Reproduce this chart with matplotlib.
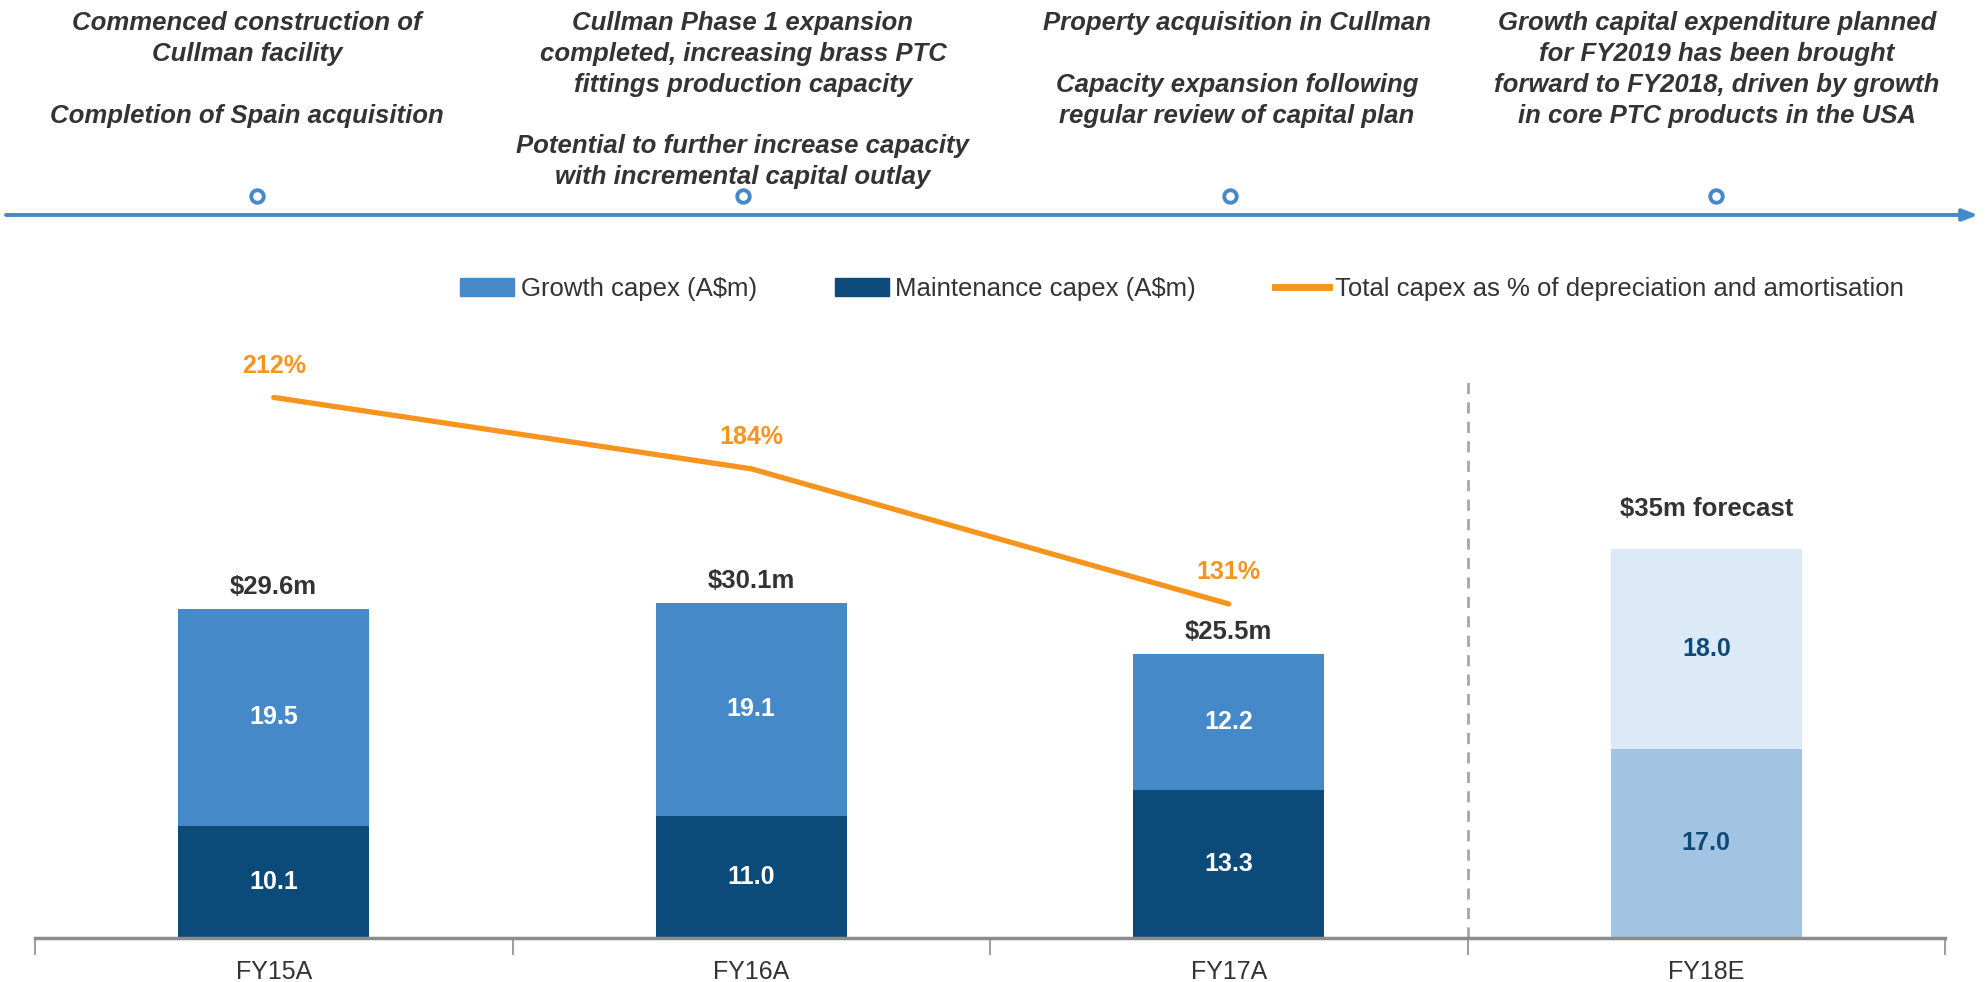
import numpy as np
import matplotlib
matplotlib.use("Agg")
import matplotlib.pyplot as plt
from matplotlib.patches import Patch
from matplotlib.lines import Line2D

plt.rcParams['font.family'] = ['Liberation Sans', 'DejaVu Sans']

# data
years = ["FY15A", "FY16A", "FY17A", "FY18E"]
maintenance = [10.1, 11.0, 13.3, 17.0]
growth = [19.5, 19.1, 12.2, 18.0]
totals = ["$29.6m", "$30.1m", "$25.5m", "$35m forecast"]
capex_pct = [212, 184, 131]

milestones = [
    "Commenced construction of\nCullman facility\n\nCompletion of Spain acquisition",
    "Cullman Phase 1 expansion\ncompleted, increasing brass PTC\nfittings production capacity\n\n"
    "Potential to further increase capacity\nwith incremental capital outlay",
    "Property acquisition in Cullman\n\nCapacity expansion following\nregular review of capital plan",
    "Growth capital expenditure planned\nfor FY2019 has been brought\nforward to FY2018, driven by growth\n"
    "in core PTC products in the USA",
]

C_GROWTH = "#4689c8"
C_MAINT = "#0c4a79"
C_ORANGE = "#f7941d"
C_FC_TOP = "#dce9f6"
C_FC_BOT = "#a2c4e2"
C_TEXT = "#333333"
C_AXIS = "#8c8c8c"

W, H = 1986, 982
fig = plt.figure(figsize=(W / 100, H / 100), dpi=100)

# main chart axes (pixel layout -> figure fraction)
left, right, top, base = 35, 1945, 300, 938
ax = fig.add_axes([left / W, 1 - base / H, (right - left) / W, (base - top) / H])
ax2 = ax.twinx()

x = np.arange(len(years))
bw = 0.4
maint_cols = [C_MAINT] * 3 + [C_FC_BOT]
growth_cols = [C_GROWTH] * 3 + [C_FC_TOP]
ax.bar(x, maintenance, bw, color=maint_cols, zorder=2)
ax.bar(x, growth, bw, bottom=maintenance, color=growth_cols, zorder=2)

tot = np.array(maintenance) + np.array(growth)
for i in range(len(years)):
    lab_col = "white" if i < 3 else C_MAINT
    ax.text(x[i], maintenance[i] / 2, f"{maintenance[i]:.1f}", ha="center", va="center",
            color=lab_col, fontsize=18, fontweight="bold", zorder=3)
    ax.text(x[i], maintenance[i] + growth[i] / 2, f"{growth[i]:.1f}", ha="center", va="center",
            color=lab_col, fontsize=18, fontweight="bold", zorder=3)
    off = 2.0 if i < 3 else 3.6
    ax.text(x[i], tot[i] + off, totals[i], ha="center", va="center",
            color=C_TEXT, fontsize=18.5, fontweight="bold")

ax.set_xlim(-0.5, len(years) - 0.5)
ax.set_ylim(0, (base - top) / 11.12)
ax2.set_ylim(0, (base - top) / 2.55)

px = x[:len(capex_pct)]
ax2.plot(px, capex_pct, color=C_ORANGE, lw=3.8, solid_capstyle="round", zorder=4)
for xi, v in zip(px, capex_pct):
    ax2.text(xi, v + 12.5, f"{v}%", ha="center", va="center", color=C_ORANGE,
             fontsize=18, fontweight="bold")

# forecast divider
ax.plot([2.5, 2.5], [0, 50.2], color="#a6a6a6", lw=2, ls=(0, (4, 3)), zorder=1)

for a in (ax, ax2):
    for s in ("top", "right", "left"):
        a.spines[s].set_visible(False)
    a.set_yticks([])
ax.spines["bottom"].set_color(C_AXIS)
ax.spines["bottom"].set_linewidth(2.5)
ax2.spines["bottom"].set_visible(False)
ax.set_xticks(x)
ax.set_xticklabels(years, fontsize=18, color=C_TEXT)
ax.tick_params(axis="x", which="major", length=0, pad=16)
ax.set_xticks(np.arange(-0.5, len(years), 1.0), minor=True)
ax.tick_params(axis="x", which="minor", length=12, width=1.2, color=C_AXIS)

# legend
handles = [Patch(color=C_GROWTH), Patch(color=C_MAINT),
           Line2D([], [], color=C_ORANGE, lw=5)]
labels = ["Growth capex (A$m)", "Maintenance capex (A$m)",
          "Total capex as % of depreciation and amortisation"]
fig.legend(handles, labels, loc="center", bbox_to_anchor=(1182 / W, 1 - 289 / H), ncol=3,
           frameon=False, fontsize=18.5, handlelength=2.1, handleheight=0.75,
           handletextpad=0.25, columnspacing=3.05, labelcolor=C_TEXT)

# timeline overlay in pixel coordinates
tl = fig.add_axes([0, 0, 1, 1], zorder=-1)
tl.set_xlim(0, W)
tl.set_ylim(H, 0)
tl.axis("off")
tl.annotate("", xy=(1978, 215), xytext=(6, 215),
            arrowprops=dict(arrowstyle="-|>,head_length=0.9,head_width=0.35",
                            color=C_GROWTH, lw=2.8, shrinkA=0, shrinkB=0))
mx = [257, 743, 1230, 1716]
tl.plot(mx, [196] * 4, "o", ms=9, mfc="white", mec=C_GROWTH, mew=2.8, ls="none")
text_x = [247, 743, 1237, 1717]
for xm, txt in zip(text_x, milestones):
    tl.text(xm, 11, txt, ha="center", va="top", fontsize=18.5, fontweight="bold",
            fontstyle="italic", color=C_TEXT, linespacing=1.36)

fig.savefig("out.png", dpi=100)
